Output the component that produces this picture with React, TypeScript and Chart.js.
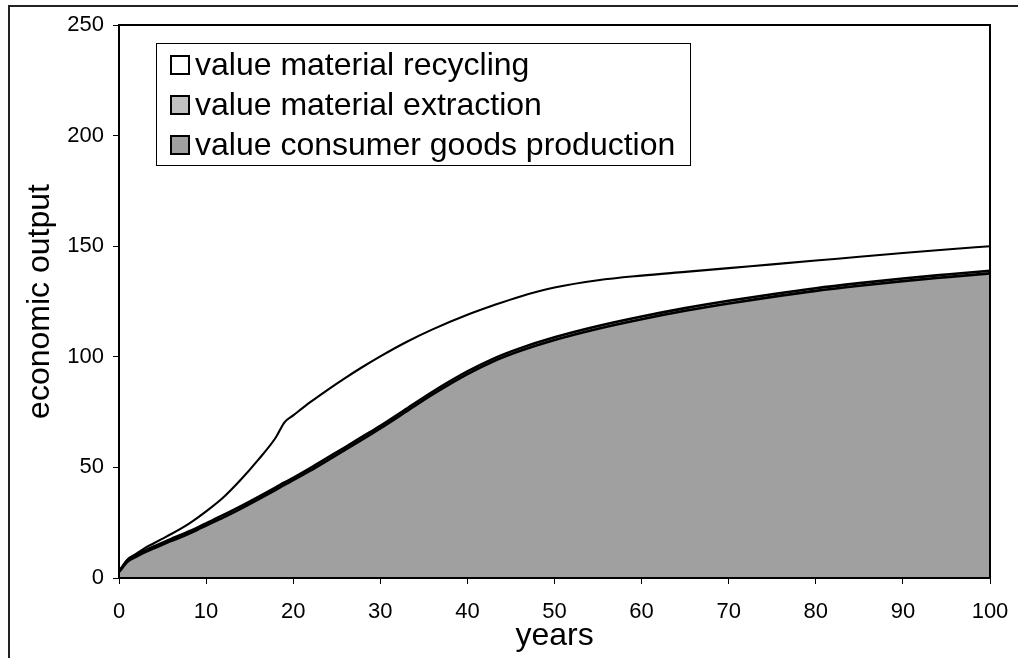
import React, { useEffect, useRef } from "react";
import { Chart, registerables } from "chart.js";

Chart.register(...registerables);

const years = [0, 1, 2, 3, 4, 5, 6, 7, 8, 9, 10, 12, 14, 16, 18, 19, 20, 22, 24, 26, 28, 30, 33, 36, 40, 43, 46, 50, 55, 60, 65, 70, 75, 80, 85, 90, 95, 100];

const consumerGoods = [2.7, 7.4, 9.7, 11.7, 13.4, 15.1, 16.8, 18.3, 20, 21.8, 23.7, 27.4, 31.4, 35.6, 39.9, 42.1, 44.2, 48.6, 53.3, 58, 62.8, 67.6, 75.3, 83.0, 92.2, 98.0, 102.6, 107.6, 112.7, 117, 120.8, 124.1, 127.1, 129.8, 132.1, 134.2, 136, 137.7];

const materialExtraction = [0.3, 0.6, 0.8, 0.8, 0.9, 0.9, 0.9, 1, 1, 1, 1, 1.1, 1.1, 1.1, 1.1, 1.1, 1.1, 1.2, 1.2, 1.2, 1.2, 1.2, 1.2, 1.2, 1.2, 1.2, 1.2, 1.2, 1.2, 1.2, 1.2, 1.2, 1.2, 1.2, 1.2, 1.2, 1.2, 1.2];

const materialRecycling = [0, 0.5, 0.5, 1.1, 1.4, 1.8, 2.2, 2.8, 3.5, 4.4, 5.4, 8.0, 12.0, 16.8, 22.5, 27.2, 28.2, 29.8, 30.7, 31.3, 31.5, 31.4, 30.2, 28.2, 25.6, 24.1, 23.4, 22.5, 20.7, 18.5, 16.4, 14.8, 13.5, 12.5, 11.9, 11.5, 11.3, 11.1];

const seriesLabels = ["value consumer goods production", "value material extraction", "value material recycling"];
const seriesColors = ["#A0A0A0", "#C0C0C0", "#FFFFFF"];
const seriesLineWidths = [2.6, 2.6, 2.1];

const FONT = '"Liberation Sans", Arial, sans-serif';

const framePlugin = {
  id: "frame",
  beforeDraw(chart: any) {
    const { ctx } = chart;
    ctx.save();
    ctx.fillStyle = "#fff";
    ctx.fillRect(0, 0, chart.width, chart.height);
    ctx.strokeStyle = "#222";
    ctx.lineWidth = 2;
    ctx.beginPath();
    ctx.moveTo(9, chart.height);
    ctx.lineTo(9, 6);
    ctx.lineTo(chart.width, 6);
    ctx.stroke();
    ctx.restore();
  },
  afterDatasetsDraw(chart: any) {
    const { ctx, chartArea: a } = chart;
    ctx.save();
    ctx.strokeStyle = "#000";
    ctx.lineWidth = 2;
    ctx.strokeRect(a.left, a.top, a.right - a.left, a.bottom - a.top);
    ctx.restore();
  },
};

const legendPlugin = {
  id: "boxLegend",
  afterDraw(chart: any) {
    const { ctx, chartArea: a } = chart;
    const x0 = a.left + 37;
    const y0 = a.top + 18;
    const w = 534;
    const h = 122;
    ctx.save();
    ctx.fillStyle = "#fff";
    ctx.fillRect(x0, y0, w, h);
    ctx.strokeStyle = "#000";
    ctx.lineWidth = 1;
    ctx.strokeRect(x0 + 0.5, y0 + 0.5, w, h);
    const ds = chart.data.datasets.slice().reverse();
    ds.forEach((d: any, i: number) => {
      const sy = y0 + 13 + 40 * i;
      ctx.fillStyle = d.backgroundColor;
      ctx.fillRect(x0 + 15, sy, 18, 18);
      ctx.strokeStyle = "#000";
      ctx.lineWidth = 2;
      ctx.strokeRect(x0 + 15, sy, 18, 18);
      ctx.fillStyle = "#000";
      ctx.font = `32px ${FONT}`;
      ctx.textBaseline = "alphabetic";
      ctx.textAlign = "left";
      ctx.fillText(d.label, x0 + 39, y0 + 32 + 40 * i);
    });
    ctx.restore();
  },
};

export default function App() {
  const ref = useRef<HTMLCanvasElement>(null);

  useEffect(() => {
    if (!ref.current) return;
    const seriesValues = [consumerGoods, materialExtraction, materialRecycling];
    const datasets = seriesValues.map((vals, k) => ({
      label: seriesLabels[k],
      data: years.map((x, i) => ({ x, y: vals[i] })),
      backgroundColor: seriesColors[k],
      borderColor: "#000",
      borderWidth: seriesLineWidths[k],
      pointRadius: 0,
      fill: k === 0 ? "origin" : "-1",
      cubicInterpolationMode: "monotone" as const,
    }));
    const chart = new Chart(ref.current, {
      type: "line",
      data: { datasets },
      plugins: [framePlugin, legendPlugin],
      options: {
        animation: false,
        responsive: false,
        devicePixelRatio: 1,
        layout: { padding: { left: 0, top: 25, right: 28, bottom: 0 } },
        plugins: { legend: { display: false }, tooltip: { enabled: false } },
        scales: {
          x: {
            type: "linear",
            min: 0,
            max: 100,
            border: { display: false },
            grid: { drawOnChartArea: false, drawTicks: true, tickLength: 6, color: "#000", lineWidth: 1 },
            ticks: { stepSize: 10, color: "#000", font: { family: FONT, size: 22 }, padding: 15, maxRotation: 0 },
            title: { display: true, text: "years", color: "#000", font: { family: FONT, size: 32 }, padding: { top: 0, bottom: 3 } },
            afterFit(scale: any) {
              scale.height = 80;
              scale.paddingLeft = 0;
              scale.paddingRight = 0;
            },
          },
          y: {
            stacked: true,
            min: 0,
            max: 250,
            border: { display: false },
            grid: { drawOnChartArea: false, drawTicks: true, tickLength: 6, color: "#000", lineWidth: 1 },
            ticks: { stepSize: 50, color: "#000", font: { family: FONT, size: 22 }, padding: 9 },
            title: { display: true, text: "economic output", color: "#000", font: { family: FONT, size: 32 }, padding: { top: 21, bottom: 0 } },
            afterFit(scale: any) {
              scale.width = 119;
              scale.paddingTop = 0;
              scale.paddingBottom = 0;
            },
          },
        },
      },
    });
    return () => chart.destroy();
  }, []);

  return (
    <div style={{ position: "fixed", left: 0, top: 0, width: 1018, height: 658, background: "#fff" }}>
      <canvas ref={ref} width={1018} height={658} style={{ display: "block", width: 1018, height: 658 }} />
    </div>
  );
}
